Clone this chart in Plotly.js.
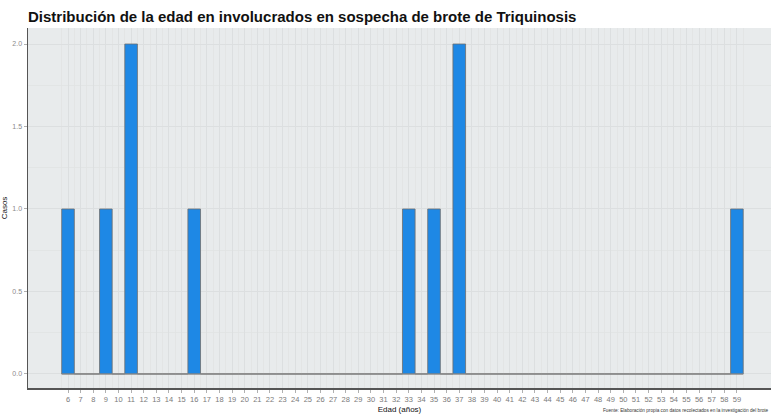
<!DOCTYPE html>
<html><head><meta charset="utf-8">
<script src="https://cdn.plot.ly/plotly-3.0.1.min.js"></script>
<style>html,body{margin:0;padding:0;background:#fff}#c{width:771px;height:415px}</style>
</head><body><div id="c"></div>
<script>
const edades = [6,7,8,9,10,11,12,13,14,15,16,17,18,19,20,21,22,23,24,25,26,27,28,29,30,31,32,33,34,35,36,37,38,39,40,41,42,43,44,45,46,47,48,49,50,51,52,53,54,55,56,57,58,59];
const casos  = [1,0,0,1,0,2,0,0,0,0,1,0,0,0,0,0,0,0,0,0,0,0,0,0,0,0,0,1,0,1,0,2,0,0,0,0,0,0,0,0,0,0,0,0,0,0,0,0,0,0,0,0,0,1];
const titulo = "Distribución de la edad en involucrados en sospecha de brote de Triquinosis";
const fuente = "Fuente: Elaboración propia con datos recolectados en la investigación del brote";

const x0 = edades[0] - 0.5, x1 = edades[edades.length-1] + 0.5;
const minorVals = [];
for (let i = 0; i <= edades.length; i++) minorVals.push(edades[0] - 0.5 + i);

const data = [
  {type:'scatter', mode:'lines', x:[x0, x1], y:[0,0], line:{color:'#8a8a8a', width:1}, hoverinfo:'skip', showlegend:false},
  {type:'bar', x:edades, y:casos, width:1, marker:{color:'#1E88E5', line:{color:'#6e6e6e', width:0.8}}, showlegend:false}
];

const layout = {
  width:771, height:415,
  margin:{l:28, r:0, t:28, b:27},
  paper_bgcolor:'#ffffff', plot_bgcolor:'#E8EBEC',
  font:{family:'Liberation Sans, Arial, sans-serif', color:'#333'},
  title:{text:'<b>'+titulo+'</b>', x:28/771, xanchor:'left', y:1-17/415, yanchor:'middle', font:{size:15, color:'#111'}},
  bargap:0,
  xaxis:{range:[2.83, 61.7], tickmode:'array', tickvals:edades, ticktext:edades.map(String),
    tickfont:{size:7.5, color:'#7a7a7a'}, ticks:'outside', ticklen:3, tickcolor:'#b0b0b0',
    showgrid:true, gridcolor:'#dcdfe0', gridwidth:1,
    minor:{tickmode:'array', tickvals:minorVals, showgrid:true, gridcolor:'#e1e3e4', gridwidth:0.8, ticks:''},
    showline:true, linecolor:'#555', linewidth:1.5, zeroline:false,
    title:{text:'Edad (años)', font:{size:8, color:'#111'}, standoff:4}},
  yaxis:{range:[-0.085, 2.097], tickvals:[0,0.5,1,1.5,2], tickformat:'.1f',
    tickfont:{size:7, color:'#8a8a8a'}, ticks:'outside', ticklen:3, tickcolor:'#b0b0b0',
    showgrid:true, gridcolor:'#dcdfe0', gridwidth:1,
    minor:{tickmode:'array', tickvals:[0.25,0.75,1.25,1.75], showgrid:true, gridcolor:'#e0e3e4', gridwidth:0.8, ticks:''},
    showline:true, linecolor:'#555', linewidth:1.5, zeroline:false,
    title:{text:'Casos', font:{size:8, color:'#111'}, standoff:6}},
  annotations:[{text:fuente, xref:'paper', yref:'paper', x:1, y:-(410-388)/360, xanchor:'right', yanchor:'middle', showarrow:false, font:{size:4.7, color:'#333'}}]
};
Plotly.newPlot('c', data, layout, {displayModeBar:false, staticPlot:true});
</script></body></html>
